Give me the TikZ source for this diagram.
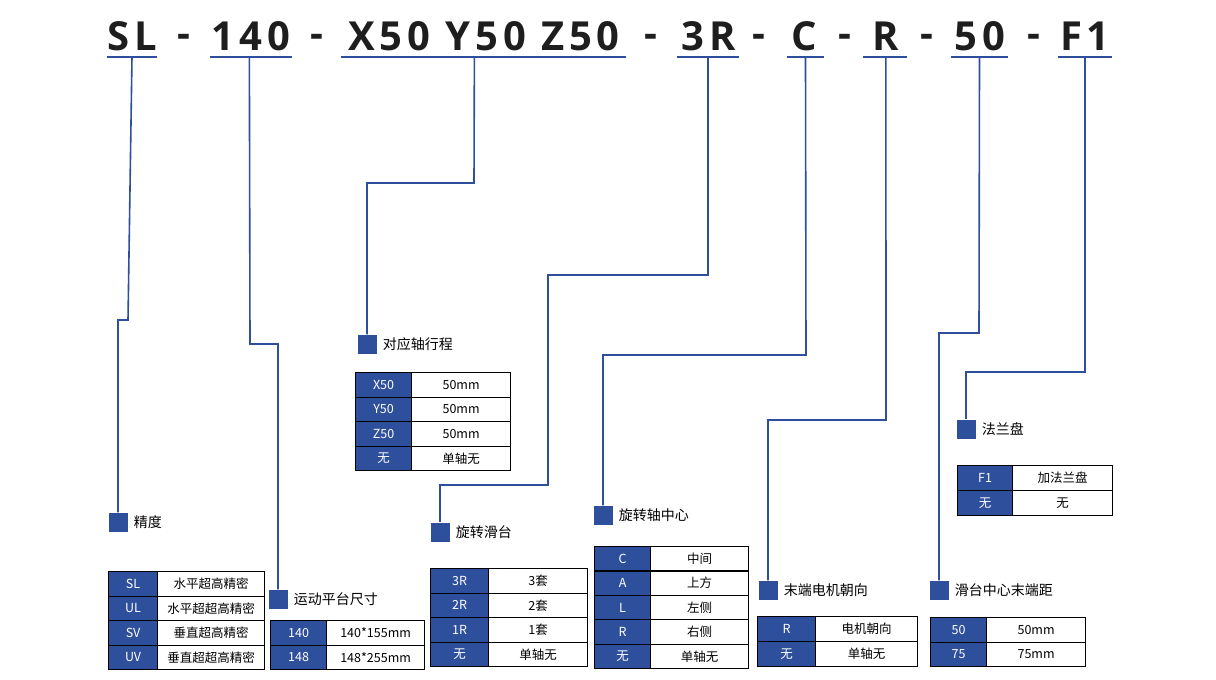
\documentclass[tikz,border=0pt]{standalone}
\usepackage{fontspec}
\setmainfont{Noto Sans CJK SC}
\newfontfamily\titlefont[LetterSpace=12]{Open Sans}
\usetikzlibrary{positioning}
\definecolor{specblue}{HTML}{2E4F9B}
\definecolor{titlegray}{HTML}{1E1E1E}

\tikzset{
    code/.style={font=\titlefont\bfseries\fontsize{40}{40}\selectfont, text=titlegray, inner sep=0},
    uline/.style={specblue, line width=2pt},
    lead/.style={specblue, line width=1.6pt},
    sq/.style={fill=specblue, minimum size=19pt, inner sep=0},
    lbl/.style={right=6pt of #1, font=\fontsize{14}{14}\selectfont, inner sep=0},
    keycell/.style={draw=black, line width=1.2pt, fill=specblue, text=white, inner sep=0, font=\fontsize{12.5}{12.5}\selectfont},
    valcell/.style={draw=black, line width=1.2pt, fill=white, inner sep=0, font=\fontsize{12.5}{12.5}\selectfont}
}

% table: name, left x, split x, right x, top y, row height, key/value list
\newcommand\spectab[7]{
    \foreach \k/\v [count=\i] in {#7} {
        \node[keycell, minimum width={#3-#2}, minimum height=#6, anchor=north west]
            (#1k\i) at (#2,{#5+(\i-1)*#6}) {\k};
        \node[valcell, minimum width={#4-#3}, minimum height=#6, anchor=north west]
            (#1v\i) at (#3,{#5+(\i-1)*#6}) {\v};
    }
}

\begin{document}
\begin{tikzpicture}[x=1pt,y=-1pt]
    \useasboundingbox[fill=white] (0,0) rectangle (1216,680);

    % model code
    \node[code] (cSL) at (132,36) {SL};
    \node[code] (c140) at (251,36) {140};
    \node[code] (cXYZ) at (484,36) {X50 Y50 Z50};
    \node[code] (c3R) at (709,36) {3R};
    \node[code] (cC) at (804,36) {C};
    \node[code] (cR) at (886,36) {R};
    \node[code] (c50) at (980,36) {50};
    \node[code] (cF1) at (1085,36) {F1};
    \foreach \x in {184,317,651,759,845,927,1034}
        \node[code] at (\x,41) {-};

    % underlines
    \draw[uline] (107,57) -- (157,57) coordinate[midway] (uSL);
    \draw[uline] (210,57) -- (292,57) coordinate[pos=0.48] (u140);
    \draw[uline] (341,57) -- (626,57) coordinate[pos=0.468] (uXYZ);
    \draw[uline] (677,57) -- (739,57) coordinate[pos=0.5] (u3R);
    \draw[uline] (787,57) -- (824,57) coordinate[pos=0.5] (uC);
    \draw[uline] (863,57) -- (907,57) coordinate[pos=0.52] (uR);
    \draw[uline] (951,57) -- (1008,57) coordinate[pos=0.5] (u50);
    \draw[uline] (1058,57) -- (1112,57) coordinate[pos=0.5] (uF1);

    % markers and headings
    \node[sq] (sSL) at (118,522) {};
    \node[lbl=sSL] (tSL) {精度};
    \node[sq] (s140) at (278,599) {};
    \node[lbl=s140] (t140) {运动平台尺寸};
    \node[sq] (sXYZ) at (367,344) {};
    \node[lbl=sXYZ] (tXYZ) {对应轴行程};
    \node[sq] (s3R) at (440,532) {};
    \node[lbl=s3R] (t3R) {旋转滑台};
    \node[sq] (sC) at (603,515) {};
    \node[lbl=sC] (tC) {旋转轴中心};
    \node[sq] (sR) at (768,590) {};
    \node[lbl=sR] (tR) {末端电机朝向};
    \node[sq] (s50) at (939,590) {};
    \node[lbl=s50] (t50) {滑台中心末端距};
    \node[sq] (sF1) at (966,429) {};
    \node[lbl=sF1] (tF1) {法兰盘};

    % leader lines
    \coordinate (jSL) at (128,320);
    \draw[lead] (uSL) -- (jSL) -- ++(-10,0) -- (sSL.north);
    \coordinate (j140) at (250,344);
    \draw[lead] (u140) -- (j140) -- (278,344) -- (s140.north);
    \draw[lead] (uXYZ) -- (474,183) -- (367,183) -- (sXYZ.north);
    \draw[lead] (u3R) -- (708,275) -- (548,275) -- (548,485) -- (440,485) -- (s3R.north);
    \draw[lead] (uC) -- (806,355) -- (603,355) -- (sC.north);
    \draw[lead] (uR) -- (886,420) -- (768,420) -- (sR.north);
    \draw[lead] (u50) -- (979,333) -- (939,333) -- (s50.north);
    \draw[lead] (uF1) -- (1085,372) -- (966,372) -- (sF1.north);

    % tables
    \spectab{SL}{108}{157}{264}{571}{24.5}{SL/水平超高精密, UL/水平超超高精密, SV/垂直超高精密, UV/垂直超超高精密}
    \spectab{PL}{270}{326}{424}{620}{24.5}{140/140*155mm, 148/148*255mm}
    \spectab{AX}{355}{411}{510}{372}{24.5}{X50/50mm, Y50/50mm, Z50/50mm, 无/单轴无}
    \spectab{RS}{430}{488}{587}{568}{24.5}{3R/3套, 2R/2套, 1R/1套, 无/单轴无}
    \spectab{RC}{594}{650}{748}{546}{24.4}{C/中间, A/上方, L/左侧, R/右侧, 无/单轴无}
    \spectab{MO}{757}{815}{917}{616}{25}{R/电机朝向, 无/单轴无}
    \spectab{DI}{930}{986}{1085}{617}{24.5}{50/50mm, 75/75mm}
    \spectab{FL}{957}{1012}{1112}{465}{25}{F1/加法兰盘, 无/无}
\end{tikzpicture}
\end{document}
